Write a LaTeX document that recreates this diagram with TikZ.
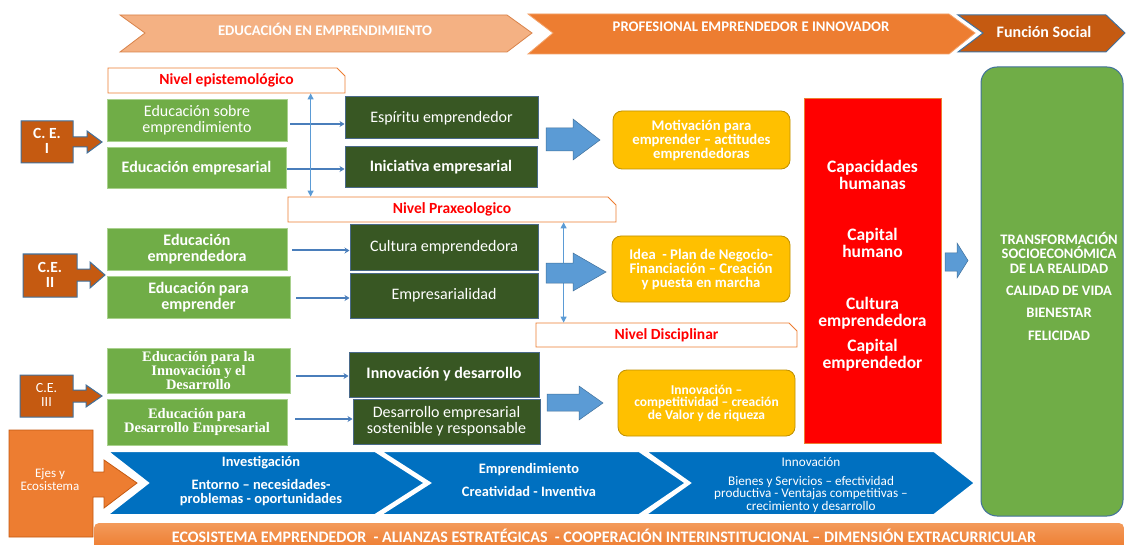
\documentclass[tikz,border=0pt]{standalone}
\usepackage{fontspec}
\setmainfont{Carlito}
\newfontfamily\timesf{Liberation Serif}
\usetikzlibrary{shapes.misc,arrows.meta,calc}
\definecolor{cpeach}{HTML}{F4B183}
\definecolor{cpeachb}{HTML}{D9834A}
\definecolor{corange}{HTML}{ED7D31}
\definecolor{corangeb}{HTML}{F3A36B}
\definecolor{cbrown}{HTML}{C55A11}
\definecolor{cblueb}{HTML}{41719C}
\definecolor{cgreen}{HTML}{70AD47}
\definecolor{cgreenb}{HTML}{A9D18E}
\definecolor{cdark}{HTML}{385723}
\definecolor{cdarkb}{HTML}{4A6A8A}
\definecolor{cyel}{HTML}{FFC000}
\definecolor{cyelb}{HTML}{BF9000}
\definecolor{cred}{HTML}{FF0000}
\definecolor{clblue}{HTML}{5B9BD5}
\definecolor{carrow}{HTML}{4A7EBB}
\definecolor{cdblue}{HTML}{0070C0}
\definecolor{cbartop}{HTML}{F39A5A}
\definecolor{cbarbot}{HTML}{EC7424}
\begin{document}
\begin{tikzpicture}[x=1pt,y=-1pt,
  base/.style={inner sep=0pt, align=center, text=white},
  gbox/.style={base, fill=cgreen, draw=cgreenb, line width=0.6pt, font=\fontsize{16}{16}\selectfont},
  gtimes/.style={gbox, font=\timesf\bfseries\fontsize{14.5}{13.8}\selectfont},
  dbox/.style={base, fill=cdark, draw=cdarkb, line width=1pt, font=\fontsize{16}{16}\selectfont},
  ybox/.style={base, fill=cyel, draw=cyelb, line width=0.8pt, rounded corners=9pt, font=\bfseries\fontsize{14.7}{14}\selectfont},
  nivel/.style={chamfered rectangle, chamfered rectangle corners=north east, chamfered rectangle xsep=4pt, chamfered rectangle ysep=4pt, inner sep=0pt, fill=white, draw=corange, line width=0.8pt, text=cred, font=\bfseries\fontsize{15.5}{15.5}\selectfont},
  wtxt/.style={inner sep=0pt, align=center, text=white},
  tarr/.style={draw=carrow, line width=2pt, -{Stealth[length=5pt,width=6pt]}},
  varr/.style={draw=clblue, line width=1pt, {Triangle[length=6pt,width=6pt]}-{Triangle[length=6pt,width=6pt]}},
  blockar/.style={fill=clblue, draw=cblueb, line width=0.5pt},
  ceshape/.style={fill=cbrown, draw=cblueb, line width=1pt},
  bluechev/.style={fill=cdblue, draw=white, line width=2pt}
]
\useasboundingbox (0,0) rectangle (1126,545);
\fill[white] (0,0) rectangle (1126,545);

% top banners
\draw[fill=cpeach, draw=cpeachb, line width=0.8pt] (120,15) -- (507,15) -- (532,33) -- (507,52) -- (120,52) -- (145,33) -- cycle;
\node[wtxt, font=\bfseries\fontsize{14.7}{15}\selectfont] (t1) at (325,29) {EDUCACIÓN EN EMPRENDIMIENTO};
\draw[fill=corange, draw=corangeb, line width=0.8pt] (528,14) -- (949,14) -- (975,33) -- (949,54) -- (528,54) -- (553,33) -- cycle;
\node[wtxt, font=\bfseries\fontsize{14.7}{15}\selectfont] (t2) at (751,27) {PROFESIONAL EMPRENDEDOR E INNOVADOR};
\draw[fill=cbrown, draw=cblueb, line width=1pt] (958,15) -- (1106,15) -- (1125,33) -- (1106,52) -- (958,52) -- (983,33) -- cycle;
\node[wtxt, font=\bfseries\fontsize{16}{16}\selectfont] (t3) at (1044,32) {Función Social};

% nivel boxes
\node[nivel, minimum width=237, minimum height=25] (ne) at (226.5,80.5) {Nivel epistemológico};
\node[nivel, minimum width=328, minimum height=25] (np) at (452,209.5) {Nivel Praxeologico};
\node[nivel, minimum width=261, minimum height=24] (nd) at (666.5,335) {Nivel Disciplinar};

% C.E. shapes
\draw[ceshape] (21,121) -- (73,121) -- (73,137) -- (87,137) -- (87,131) -- (102,142) -- (87,153) -- (87,147) -- (73,147) -- (73,163) -- (21,163) -- cycle;
\node[wtxt, font=\bfseries\fontsize{15.5}{15.5}\selectfont] (ce1) at (47,141) {C. E.\\I};
\draw[ceshape] (23,254) -- (77,254) -- (77,269) -- (90,269) -- (90,262) -- (105,275) -- (90,288) -- (90,281) -- (77,281) -- (77,297) -- (23,297) -- cycle;
\node[wtxt, font=\bfseries\fontsize{15.5}{15.5}\selectfont] (ce2) at (50,275) {C.E.\\II};
\draw[ceshape] (20,375) -- (73,375) -- (73,390) -- (86,390) -- (86,385) -- (102,396) -- (86,407) -- (86,402) -- (73,402) -- (73,417) -- (20,417) -- cycle;
\node[wtxt, font=\fontsize{14}{14}\selectfont] (ce3) at (46.5,395) {C.E.\\III};

% green boxes
\node[gbox, minimum width=180, minimum height=42] (g1) at (197,120) {Educación sobre\\emprendimiento};
\node[gbox, minimum width=179, minimum height=41, font=\bfseries\fontsize{16}{16}\selectfont] (g2) at (196.5,168) {Educación empresarial};
\node[gbox, minimum width=180, minimum height=42, font=\bfseries\fontsize{16}{16}\selectfont] (g3) at (197,249.5) {Educación\\emprendedora};
\node[gbox, minimum width=183, minimum height=42, font=\bfseries\fontsize{16}{16}\selectfont] (g4) at (198.5,297) {Educación para\\emprender};
\node[gtimes, minimum width=183, minimum height=45] (g5) at (198.5,370.5) {Educación para la\\Innovación y el\\Desarrollo};
\node[gtimes, minimum width=180, minimum height=46] (g6) at (197,422) {Educación para\\Desarrollo Empresarial};

% dark boxes
\node[dbox, minimum width=193, minimum height=42] (d1) at (441.5,118) {Espíritu emprendedor};
\node[dbox, minimum width=192, minimum height=41, font=\bfseries\fontsize{16}{16}\selectfont] (d2) at (441,167.5) {Iniciativa empresarial};
\node[dbox, minimum width=188, minimum height=45] (d3) at (444,247.5) {Cultura emprendedora};
\node[dbox, minimum width=188, minimum height=45] (d4) at (444,295.5) {Empresarialidad};
\node[dbox, minimum width=190, minimum height=45, font=\bfseries\fontsize{16}{16}\selectfont] (d5) at (444,374.5) {Innovación y desarrollo};
\node[dbox, minimum width=187, minimum height=45] (d6) at (446.5,421.5) {Desarrollo empresarial\\sostenible y responsable};

% thin arrows
\draw[tarr] ([xshift=3pt,yshift=-4pt]g1.east) -- ([yshift=-4pt]g1.east -| d1.west);
\draw[tarr] ([xshift=1pt,yshift=-1pt]g2.east) -- ([yshift=-1pt]g2.east -| d2.west);
\draw[tarr] ([xshift=5pt,yshift=-1pt]g3.east) -- ([yshift=-1pt]g3.east -| d3.west);
\draw[tarr] ([xshift=6pt,yshift=-1pt]g4.east) -- ([yshift=-1pt]g4.east -| d4.west);
\draw[tarr] ([xshift=6pt,yshift=-5.5pt]g5.east) -- ([yshift=-5.5pt]g5.east -| d5.west);
\draw[tarr] ([xshift=8pt,yshift=3pt]g6.east) -- ([yshift=3pt]g6.east -| d6.west);

% vertical double arrows
\draw[varr] ([xshift=203pt]ne.south west) -- ([xshift=23pt]np.north west);
\draw[varr] ([xshift=276pt]np.south west) -- ([xshift=28pt]nd.north west);

% block arrows
\draw[blockar] (546,128) -- (573,128) -- (573,119) -- (600,140) -- (573,160) -- (573,151) -- (546,151) -- cycle;
\draw[blockar] (546,263) -- (573,263) -- (573,253) -- (606,272) -- (573,291) -- (573,283) -- (546,283) -- cycle;
\draw[blockar] (547,394) -- (579,394) -- (579,386) -- (603,403) -- (579,420) -- (579,411) -- (547,411) -- cycle;
\draw[blockar] (945,253) -- (957,253) -- (957,243) -- (968,260.5) -- (957,278) -- (957,271) -- (945,271) -- cycle;

% yellow boxes
\node[ybox, minimum width=177, minimum height=58] (y1) at (701.5,140) {Motivación para\\emprender – actitudes\\emprendedoras};
\node[ybox, minimum width=178, minimum height=66] (y2) at (701,269) {Idea~~- Plan de Negocio-\\Financiación – Creación\\y puesta en marcha};
\node[ybox, minimum width=177, minimum height=66, font=\bfseries\fontsize{13.5}{12.5}\selectfont] (y3) at (706.5,403) {Innovación –\\competitividad – creación\\de Valor y de riqueza};

% red box
\node[fill=cred, draw=corange, line width=0.8pt, minimum width=137, minimum height=345, inner sep=0pt] (rb) at (872.5,270.5) {};
\node[wtxt, font=\bfseries\fontsize{17.5}{17.5}\selectfont] (rbt) at (872.5,265.5) {Capacidades\\humanas\\[33pt]Capital\\humano\\[34pt]Cultura\\emprendedora\\[7pt]Capital\\emprendedor};

% big green box
\node[fill=cgreen, draw=cblueb, line width=1pt, rounded corners=16pt, minimum width=142, minimum height=449, inner sep=0pt] (gb) at (1052,291.5) {};
\node[wtxt, font=\bfseries\fontsize{14.5}{14.5}\selectfont] (gbt) at (1059,286.5) {TRANSFORMACIÓN\\SOCIOECONÓMICA\\DE LA REALIDAD\\[8pt]CALIDAD DE VIDA\\[7.5pt]BIENESTAR\\[8.5pt]FELICIDAD};

% blue chevrons
\draw[bluechev] (107,451) -- (375,451) -- (425,483) -- (375,515) -- (107,515) -- (148,483) -- cycle;
\draw[bluechev] (380,451) -- (639,451) -- (686,483) -- (639,515) -- (380,515) -- (430,483) -- cycle;
\draw[bluechev] (645,451) -- (934,451) -- (975,483) -- (934,515) -- (645,515) -- (690,483) -- cycle;
\node[wtxt, font=\bfseries\fontsize{14.4}{14}\selectfont] (c1) at (261,481.5) {Investigación\\[9pt]Entorno – necesidades-\\problemas - oportunidades};
\node[wtxt, font=\bfseries\fontsize{14.4}{14}\selectfont] (c2) at (529,479.5) {Emprendimiento\\[9pt]Creatividad - Inventiva};
\node[wtxt, font=\fontsize{13.2}{12.5}\selectfont] (c3) at (811,485) {Innovación\\[6.5pt]Bienes y Servicios – efectividad\\productiva - Ventajas competitivas –\\crecimiento y desarrollo};

% Ejes y Ecosistema
\draw[fill=corange, draw=cbrown, line width=0.8pt] (9,430) -- (93,430) -- (93,472) -- (104,472) -- (104,460) -- (137,483) -- (104,508) -- (104,497) -- (93,497) -- (93,537) -- (9,537) -- cycle;
\node[wtxt, font=\fontsize{13}{13}\selectfont] (ejes) at (50,480) {Ejes y\\Ecosistema};

% bottom bar
\shade[top color=cbartop, bottom color=cbarbot, rounded corners=5pt] (94,523) rectangle (1124,556);
\node[wtxt, font=\bfseries\fontsize{16}{16}\selectfont] (bar) at (604,536) {ECOSISTEMA EMPRENDEDOR~~- ALIANZAS ESTRATÉGICAS~~- COOPERACIÓN INTERINSTITUCIONAL – DIMENSIÓN EXTRACURRICULAR};
\end{tikzpicture}
\end{document}
